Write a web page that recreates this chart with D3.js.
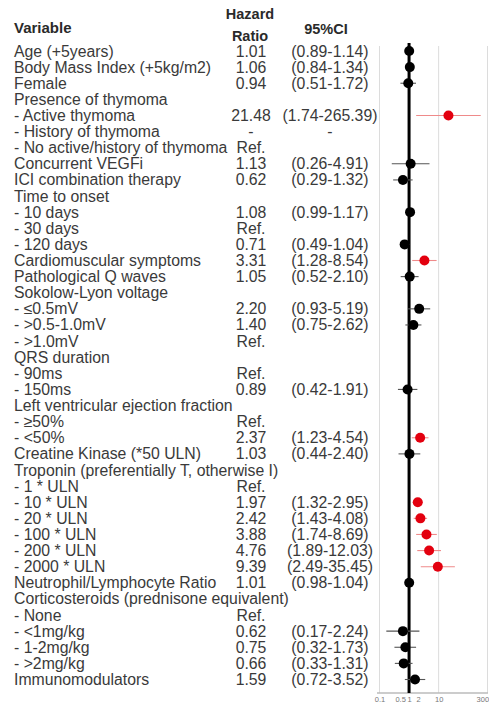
<!DOCTYPE html>
<html>
<head>
<meta charset="utf-8">
<script src="https://cdn.jsdelivr.net/npm/d3@7"></script>
<style>
html,body{margin:0;padding:0;background:#fff;}
svg{display:block;}
text{font-family:"Liberation Sans",Arial,sans-serif;}
</style>
</head>
<body>
<svg id="chart" width="489" height="707"></svg>
<script>
const labels = [
  "Age (+5years)","Body Mass Index (+5kg/m2)","Female","Presence of thymoma",
  "- Active thymoma","- History of thymoma","- No active/history of thymoma",
  "Concurrent VEGFi","ICI combination therapy","Time to onset","- 10 days","- 30 days","- 120 days",
  "Cardiomuscular symptoms","Pathological Q waves","Sokolow-Lyon voltage","- \u22640.5mV","- >0.5-1.0mV","- >1.0mV",
  "QRS duration","- 90ms","- 150ms","Left ventricular ejection fraction","- \u226550%","- <50%",
  "Creatine Kinase (*50 ULN)","Troponin (preferentially T, otherwise I)","- 1 * ULN","- 10 * ULN","- 20 * ULN",
  "- 100 * ULN","- 200 * ULN","- 2000 * ULN","Neutrophil/Lymphocyte Ratio","Corticosteroids (prednisone equivalent)",
  "- None","- <1mg/kg","- 1-2mg/kg","- >2mg/kg","Immunomodulators"
];
const hrText = [
  "1.01","1.06","0.94","",
  "21.48","-","Ref.",
  "1.13","0.62","","1.08","Ref.","0.71",
  "3.31","1.05","","2.20","1.40","Ref.",
  "","Ref.","0.89","","Ref.","2.37",
  "1.03","","Ref.","1.97","2.42",
  "3.88","4.76","9.39","1.01","",
  "Ref.","0.62","0.75","0.66","1.59"
];
const ciText = [
  "(0.89-1.14)","(0.84-1.34)","(0.51-1.72)","",
  "(1.74-265.39)","-","",
  "(0.26-4.91)","(0.29-1.32)","","(0.99-1.17)","","(0.49-1.04)",
  "(1.28-8.54)","(0.52-2.10)","","(0.93-5.19)","(0.75-2.62)","",
  "","","(0.42-1.91)","","","(1.23-4.54)",
  "(0.44-2.40)","","","(1.32-2.95)","(1.43-4.08)",
  "(1.74-8.69)","(1.89-12.03)","(2.49-35.45)","(0.98-1.04)","",
  "","(0.17-2.24)","(0.32-1.73)","(0.33-1.31)","(0.72-3.52)"
];
const hr = [1.01,1.06,0.94,null,21.48,null,null,1.13,0.62,null,1.08,null,0.71,3.31,1.05,null,2.20,1.40,null,null,null,0.89,null,null,2.37,1.03,null,null,1.97,2.42,3.88,4.76,9.39,1.01,null,null,0.62,0.75,0.66,1.59];
const lo = [0.89,0.84,0.51,null,1.74,null,null,0.26,0.29,null,0.99,null,0.49,1.28,0.52,null,0.93,0.75,null,null,null,0.42,null,null,1.23,0.44,null,null,1.32,1.43,1.74,1.89,2.49,0.98,null,null,0.17,0.32,0.33,0.72];
const hi = [1.14,1.34,1.72,null,265.39,null,null,4.91,1.32,null,1.17,null,1.04,8.54,2.10,null,5.19,2.62,null,null,null,1.91,null,null,4.54,2.40,null,null,2.95,4.08,8.69,12.03,35.45,1.04,null,null,2.24,1.73,1.31,3.52];
const significant = [0,0,0,0,1,0,0,0,0,0,0,0,0,1,0,0,0,0,0,0,0,0,0,0,1,0,0,0,1,1,1,1,1,0,0,0,0,0,0,0];
const tickValues = [0.1,0.5,1,2,10,300];
const tickLabels = ["0.1","0.5","1","2","10","300"];

const svg = d3.select("#chart");
const textColor = "#3a3a3a";
const fs = 15.8;

const y = d3.scaleLinear().domain([0, labels.length-1]).range([51, 679.5]);
const x = d3.scaleLog().domain([0.1, 450]).range([379.5, 487.5]);
const axisY = 693;

// header
svg.append("text").attr("x",14).attr("y",28).attr("dy","0.35em")
  .attr("font-size",15).attr("font-weight","bold").attr("fill","#2a2a2a").text("Variable");
svg.append("text").attr("x",250).attr("y",14).attr("dy","0.35em").attr("text-anchor","middle")
  .attr("font-size",14.5).attr("font-weight","bold").attr("fill","#2a2a2a").text("Hazard");
svg.append("text").attr("x",250).attr("y",36).attr("dy","0.35em").attr("text-anchor","middle")
  .attr("font-size",14.5).attr("font-weight","bold").attr("fill","#2a2a2a").text("Ratio");
svg.append("text").attr("x",326).attr("y",29).attr("dy","0.35em").attr("text-anchor","middle")
  .attr("font-size",14.5).attr("font-weight","bold").attr("fill","#2a2a2a").text("95%CI");

// gridlines
const grid = svg.append("g");
[0.1, 10, 450].forEach(v => {
  grid.append("line").attr("x1",x(v)).attr("x2",x(v)).attr("y1",46).attr("y2",axisY)
    .attr("stroke","#dcdcdc").attr("stroke-width",1);
});

// rows text
const rows = svg.append("g").selectAll("g").data(labels).join("g");
rows.append("text").attr("x",14).attr("y",(d,i)=>y(i)).attr("dy","0.35em")
  .attr("font-size",fs).attr("fill",textColor).text(d=>d);
rows.append("text").attr("x",251).attr("y",(d,i)=>y(i)).attr("dy","0.35em").attr("text-anchor","middle")
  .attr("font-size",fs).attr("fill",textColor).text((d,i)=>hrText[i]);
rows.append("text").attr("x",330).attr("y",(d,i)=>y(i)).attr("dy","0.35em").attr("text-anchor","middle")
  .attr("font-size",fs).attr("fill",textColor).text((d,i)=>ciText[i]);

// axis
const axis = d3.axisBottom(x).tickValues(tickValues).tickFormat((d,i)=>tickLabels[i]).tickSize(0).tickPadding(4);
const ax = svg.append("g").attr("transform",`translate(0,${axisY})`).call(axis);
ax.select(".domain").attr("stroke","#bbb").attr("stroke-width",1.5).attr("d",`M377,0H488`);
ax.selectAll("text").attr("font-size",7.5).attr("fill","#777").attr("font-family","Liberation Sans, Arial, sans-serif");

// reference line at 1
svg.append("line").attr("x1",x(1)).attr("x2",x(1)).attr("y1",43).attr("y2",axisY)
  .attr("stroke","#000").attr("stroke-width",3);

// CI lines and points
const idx = d3.range(labels.length).filter(i => hr[i] !== null);
svg.append("g").selectAll("line").data(idx).join("line")
  .attr("x1",i=>x(lo[i])).attr("x2",i=>x(hi[i]))
  .attr("y1",i=>y(i)).attr("y2",i=>y(i))
  .attr("stroke",i=>significant[i] ? "#ef8a8a" : "#555")
  .attr("stroke-width",1.1);
svg.append("g").selectAll("circle").data(idx).join("circle")
  .attr("cx",i=>x(hr[i])).attr("cy",i=>y(i)).attr("r",5)
  .attr("fill",i=>significant[i] ? "#e3000f" : "#000");
</script>
</body>
</html>
